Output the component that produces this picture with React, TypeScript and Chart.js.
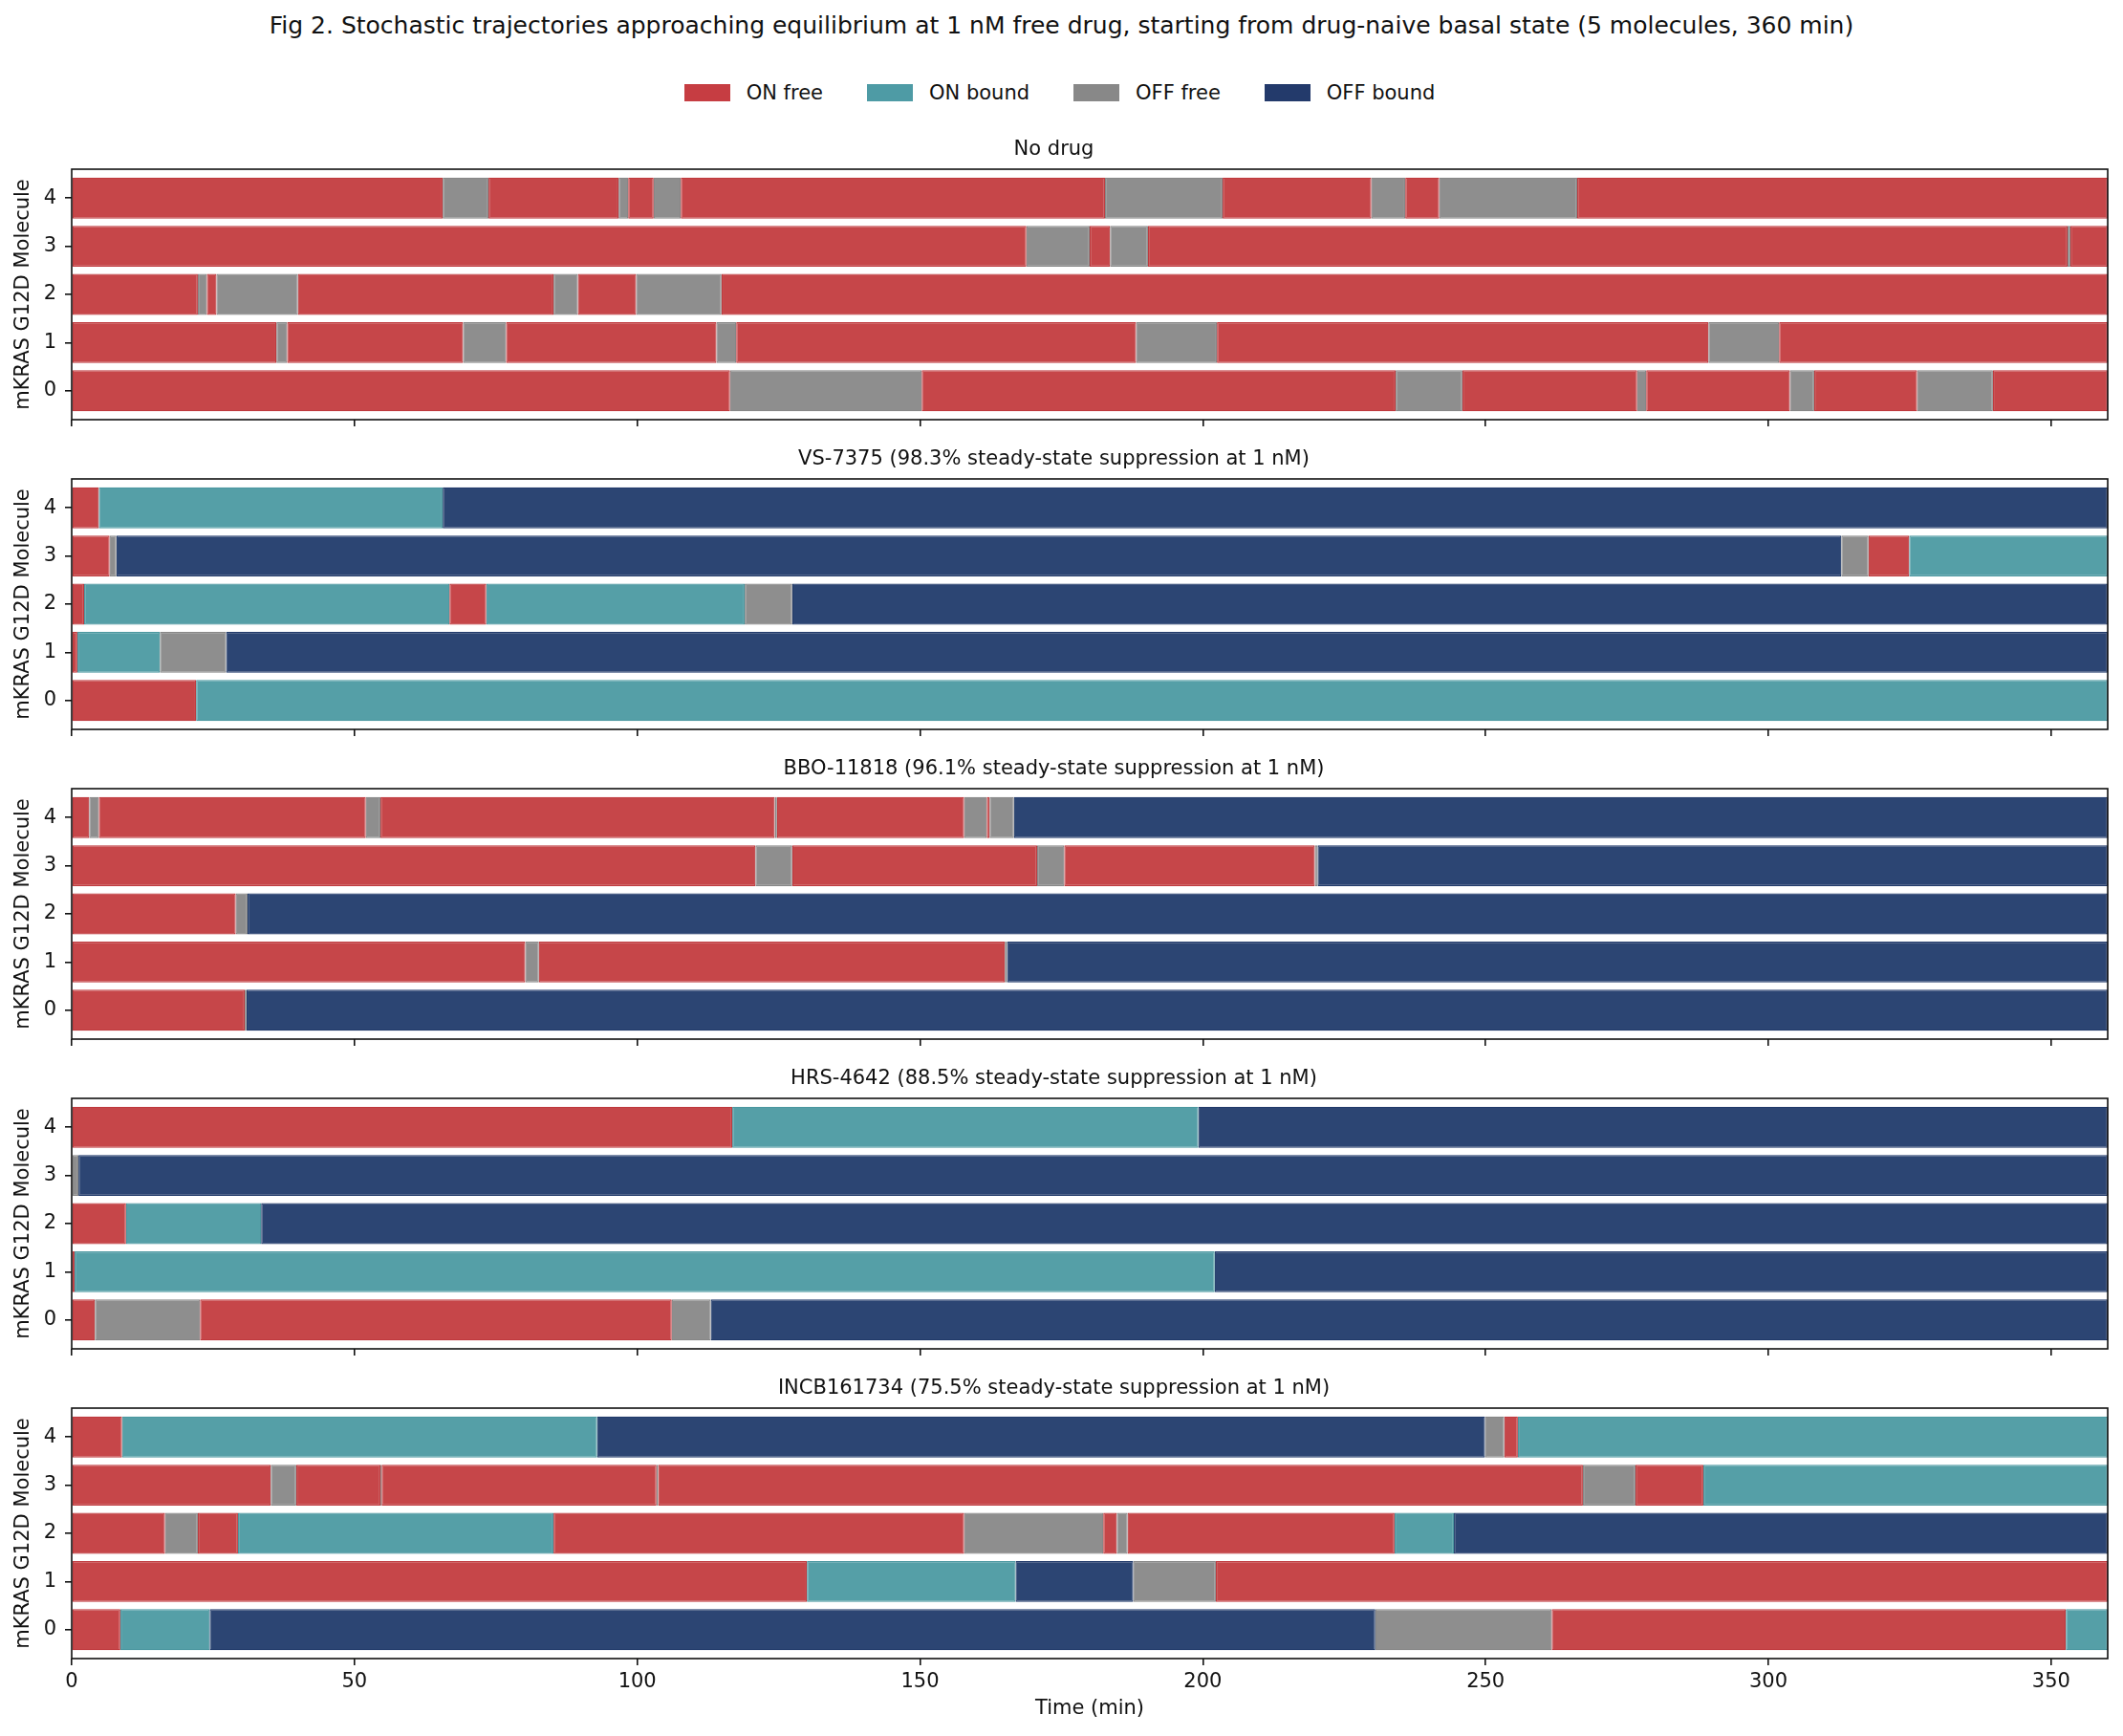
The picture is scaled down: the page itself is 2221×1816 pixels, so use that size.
import { useEffect, useRef } from 'react';
import { Chart, registerables } from 'chart.js';

Chart.register(...registerables);

// states of each molecule
const STATES = ['ON free', 'ON bound', 'OFF free', 'OFF bound'];
const ONF = 0;
const ONB = 1;
const OFFF = 2;
const OFFB = 3;

const FACE = ['#C64649', '#559FA7', '#8E8E8E', '#2C4573'];
const EDGE = ['#BF3A3E', '#4B97A0', '#878787', '#213A6A'];
const LEGEND = ['#C63D42', '#4E9BA5', '#888888', '#233A6B'];

const X_TICKS = [0, 50, 100, 150, 200, 250, 300, 350];
const MOLECULES = [0, 1, 2, 3, 4];
const T_MAX = 360;

// each molecule: list of [state, end time (min)], starting at 0
type Seg = [number, number];

const noDrug: Seg[][] = [
  [[ONF, 116.4], [OFFF, 150.3], [ONF, 234.1], [OFFF, 245.9], [ONF, 276.8], [OFFF, 278.4], [ONF, 303.8], [OFFF, 308.1], [ONF, 326.3], [OFFF, 339.7], [ONF, 360]],
  [[ONF, 36.2], [OFFF, 38.1], [ONF, 69.2], [OFFF, 76.8], [ONF, 114.0], [OFFF, 117.5], [ONF, 188.2], [OFFF, 202.5], [ONF, 289.4], [OFFF, 301.9], [ONF, 360]],
  [[ONF, 22.3], [OFFF, 23.9], [ONF, 25.6], [OFFF, 40.0], [ONF, 85.2], [OFFF, 89.5], [ONF, 99.8], [OFFF, 114.9], [ONF, 360]],
  [[ONF, 168.8], [OFFF, 180.0], [ONF, 183.6], [OFFF, 190.3], [ONF, 352.9], [OFFF, 353.4], [ONF, 360]],
  [[ONF, 65.6], [OFFF, 73.7], [ONF, 96.7], [OFFF, 98.4], [ONF, 102.9], [OFFF, 107.7], [ONF, 182.7], [OFFF, 203.5], [ONF, 229.8], [OFFF, 235.8], [ONF, 241.8], [OFFF, 266.2], [ONF, 360]],
];

const vs7375: Seg[][] = [
  [[ONF, 22.0], [ONB, 360]],
  [[ONF, 1.0], [ONB, 15.6], [OFFF, 27.3], [OFFB, 360]],
  [[ONF, 2.2], [ONB, 66.8], [ONF, 73.3], [ONB, 119.0], [OFFF, 127.4], [OFFB, 360]],
  [[ONF, 6.7], [OFFF, 7.9], [OFFB, 312.9], [OFFF, 317.7], [ONF, 324.9], [ONB, 360]],
  [[ONF, 4.8], [ONB, 65.6], [OFFB, 360]],
];

const bbo11818: Seg[][] = [
  [[ONF, 30.6], [OFFF, 30.9], [OFFB, 360]],
  [[ONF, 80.2], [OFFF, 82.6], [ONF, 165.0], [OFFF, 165.4], [OFFB, 360]],
  [[ONF, 29.0], [OFFF, 31.1], [OFFB, 360]],
  [[ONF, 120.9], [OFFF, 127.4], [ONF, 170.7], [OFFF, 175.5], [ONF, 219.8], [OFFF, 220.3], [OFFB, 360]],
  [[ONF, 3.1], [OFFF, 4.8], [ONF, 52.0], [OFFF, 54.6], [ONF, 124.3], [OFFF, 124.7], [ONF, 157.8], [OFFF, 161.8], [ONF, 162.3], [OFFF, 166.6], [OFFB, 360]],
];

const hrs4642: Seg[][] = [
  [[ONF, 4.1], [OFFF, 22.7], [ONF, 106.1], [OFFF, 113.0], [OFFB, 360]],
  [[ONF, 0.5], [ONB, 202.1], [OFFB, 360]],
  [[ONF, 9.6], [ONB, 33.5], [OFFB, 360]],
  [[OFFF, 1.2], [OFFB, 360]],
  [[ONF, 116.8], [ONB, 199.2], [OFFB, 360]],
];

const incb161734: Seg[][] = [
  [[ONF, 8.6], [ONB, 24.4], [OFFB, 230.5], [OFFF, 261.7], [ONF, 352.6], [ONB, 360]],
  [[ONF, 130.0], [ONB, 166.9], [OFFB, 187.7], [OFFF, 202.3], [ONF, 360]],
  [[ONF, 16.5], [OFFF, 22.3], [ONF, 29.4], [ONB, 85.2], [ONF, 157.8], [OFFF, 182.4], [ONF, 184.8], [OFFF, 186.7], [ONF, 233.9], [ONB, 244.4], [OFFB, 360]],
  [[ONF, 35.2], [OFFF, 39.7], [ONF, 54.6], [OFFF, 54.8], [ONF, 103.4], [OFFF, 103.7], [ONF, 267.2], [OFFF, 276.5], [ONF, 288.5], [ONB, 360]],
  [[ONF, 8.9], [ONB, 92.9], [OFFB, 249.9], [OFFF, 253.3], [ONF, 255.7], [ONB, 360]],
];

const PANEL_TITLES = [
  'No drug',
  'VS-7375 (98.3% steady-state suppression at 1 nM)',
  'BBO-11818 (96.1% steady-state suppression at 1 nM)',
  'HRS-4642 (88.5% steady-state suppression at 1 nM)',
  'INCB161734 (75.5% steady-state suppression at 1 nM)',
];
const PANEL_DATA = [noDrug, vs7375, bbo11818, hrs4642, incb161734];

const FONT = "'DejaVu Sans', 'Liberation Sans', sans-serif";
const W = 2221;
const AX_TOP0 = 177;
const AX_STEP = 324;
const AX_H = 262;
const TITLE_BLOCK = 33;

Chart.defaults.font.family = FONT;
Chart.defaults.color = '#111';

const framePlugin = {
  id: 'frame',
  afterDatasetsDraw(chart: any) {
    const { ctx, chartArea: a } = chart;
    ctx.save();
    ctx.strokeStyle = '#111';
    ctx.lineWidth = 1.6;
    ctx.strokeRect(a.left, a.top, a.right - a.left, a.bottom - a.top);
    ctx.restore();
  },
};

function Panel({ idx }: { idx: number }) {
  const chartRef = useRef<HTMLCanvasElement>(null);
  const isLast = idx === PANEL_DATA.length - 1;
  const xAxisH = isLast ? 81 : 24;
  const height = TITLE_BLOCK + AX_H + xAxisH;
  const top = AX_TOP0 + idx * AX_STEP - TITLE_BLOCK;

  useEffect(() => {
    const ctx = chartRef.current?.getContext('2d');
    if (!ctx) return;
    const mols = PANEL_DATA[idx];

    const datasets = STATES.map((name, s) => {
      const data: { x: [number, number]; y: number }[] = [];
      mols.forEach((segs, m) => {
        let start = 0;
        segs.forEach(([state, end]) => {
          if (state === s) data.push({ x: [start, end], y: MOLECULES[m] });
          start = end;
        });
      });
      return {
        label: name,
        data,
        backgroundColor: FACE[s],
        borderColor: EDGE[s],
        borderWidth: 1.2,
        borderSkipped: false,
        grouped: false,
        categoryPercentage: 1,
        barPercentage: 0.85,
      };
    });

    const chart = new Chart(ctx, {
      type: 'bar',
      data: { datasets } as any,
      plugins: [framePlugin],
      options: {
        indexAxis: 'y',
        animation: false,
        responsive: false,
        devicePixelRatio: 1,
        layout: { padding: { left: 0, right: 16, top: 0, bottom: 0 } },
        plugins: {
          legend: { display: false },
          tooltip: { enabled: false },
          title: {
            display: true,
            text: PANEL_TITLES[idx],
            color: '#111',
            font: { size: 21, weight: 'normal', family: FONT, lineHeight: 1.2 },
            padding: { top: 0, bottom: 7.8 },
          },
        },
        scales: {
          x: {
            type: 'linear',
            min: 0,
            max: T_MAX,
            offset: false,
            afterFit: (scale: any) => {
              scale.height = xAxisH;
            },
            afterBuildTicks: (scale: any) => {
              scale.ticks = X_TICKS.map((v) => ({ value: v }));
            },
            ticks: {
              display: isLast,
              includeBounds: false,
              padding: 5.4,
              color: '#111',
              font: { size: 21, family: FONT },
              maxRotation: 0,
            },
            grid: {
              offset: false,
              drawOnChartArea: false,
              drawTicks: true,
              tickLength: 7,
              tickWidth: 1.6,
              tickColor: '#111',
              lineWidth: 1.6,
            },
            border: { display: false },
            title: {
              display: isLast,
              text: 'Time (min)',
              color: '#111',
              font: { size: 21, family: FONT },
              padding: { top: 0, bottom: 15.4 },
            },
          },
          y: {
            type: 'linear',
            min: -0.6,
            max: 4.6,
            offset: false,
            afterFit: (scale: any) => {
              scale.width = 75;
            },
            afterBuildTicks: (scale: any) => {
              scale.ticks = MOLECULES.map((v) => ({ value: v }));
            },
            ticks: {
              includeBounds: false,
              stepSize: 1,
              padding: 9,
              color: '#111',
              font: { size: 21, family: FONT },
            },
            grid: {
              offset: false,
              drawOnChartArea: false,
              drawTicks: true,
              tickLength: 7,
              tickWidth: 1.6,
              tickColor: '#111',
              lineWidth: 1.6,
            },
            border: { display: false },
            title: {
              display: true,
              text: 'mKRAS G12D Molecule',
              color: '#111',
              font: { size: 21, family: FONT },
              padding: { top: 12.4, bottom: 0 },
            },
          },
        },
      } as any,
    });

    return () => {
      chart.destroy();
    };
  }, [idx]);

  return (
    <canvas
      ref={chartRef}
      width={W}
      height={height}
      style={{ position: 'absolute', left: 0, top, width: W, height, display: 'block' }}
    />
  );
}

export default function App() {
  return (
    <div style={{ position: 'absolute', left: 0, top: 0, width: W, height: 1816, background: '#fff', fontFamily: FONT, color: '#111' }}>
      <div style={{ position: 'absolute', left: 0, top: 12, width: W, textAlign: 'center', fontSize: 25, lineHeight: '30px' }}>
        Fig 2. Stochastic trajectories approaching equilibrium at 1 nM free drug, starting from drug-naive basal state (5 molecules, 360 min)
      </div>
      <div
        style={{
          position: 'absolute',
          left: 0,
          top: 84,
          width: W - 4,
          height: 26,
          display: 'flex',
          justifyContent: 'center',
          alignItems: 'center',
          fontSize: 21,
        }}
      >
        {STATES.map((name, s) => (
          <div key={name} style={{ display: 'flex', alignItems: 'center', marginRight: s < STATES.length - 1 ? 46 : 0 }}>
            <span style={{ display: 'inline-block', width: 48, height: 18, background: LEGEND[s], marginRight: 17 }} />
            <span>{name}</span>
          </div>
        ))}
      </div>
      {PANEL_DATA.map((_, i) => (
        <Panel key={i} idx={i} />
      ))}
    </div>
  );
}
